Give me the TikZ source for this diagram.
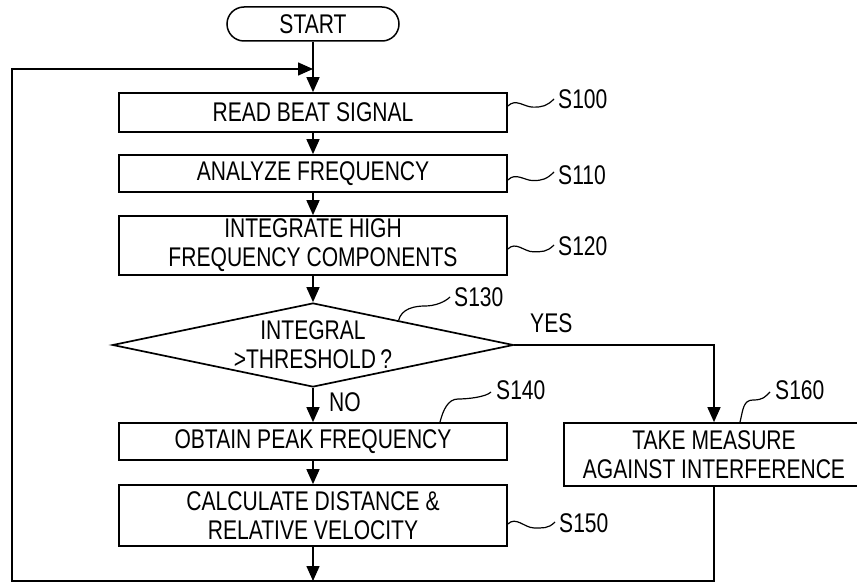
\documentclass[tikz,border=0pt]{standalone}
\usepackage{fontspec}
\setmainfont[FakeStretch=0.78]{Liberation Sans}
\usetikzlibrary{shapes.geometric,arrows.meta,calc}
\newcommand\leadh[2]{\draw[lead] (#1) .. controls +(8,-8) and +(-9,0) .. ($(#1)!0.55!(#2)+(0,5)$) .. controls +(9,0) and +(-7,7) .. (#2);}
\newcommand\leadv[3]{\draw[lead] (#1) .. controls +(3,-12) and +(-10,0) .. (#2) .. controls +(10,0) and +(-5,5) .. (#3);}
\begin{document}
\begin{tikzpicture}[x=1pt,y=-1pt,
  every node/.style={font=\fontsize{27}{29}\selectfont, text=black},
  proc/.style={draw, line width=1.7pt, rectangle, align=center, inner sep=0pt},
  term/.style={draw, line width=1.5pt, rectangle, rounded corners=17pt, inner sep=0pt},
  flow/.style={line width=1.5pt},
  arr/.style={flow, -{Triangle[length=15pt,width=13pt]}},
  lead/.style={line width=1.2pt},
  lbl/.style={anchor=west, inner sep=0pt}]
\useasboundingbox (0,0) rectangle (857,583);
\fill[white] (0,0) rectangle (857,583);
\clip (0,0) rectangle (857,583);

% nodes
\node[term, minimum width=172pt, minimum height=34pt] (st) at (313,24) {START};
\node[proc, minimum width=388pt, minimum height=39pt] (b1) at (313,112.5) {READ BEAT SIGNAL};
\node[proc, minimum width=388pt, minimum height=37pt] (b2) at (313,173.5) {ANALYZE FREQUENCY};
\node[proc, minimum width=388pt, minimum height=59pt] (b3) at (313,245.5) {INTEGRATE HIGH\\FREQUENCY COMPONENTS};
\node[diamond, draw, line width=1.7pt, inner sep=0pt, aspect=4.77, minimum width=401pt, minimum height=84pt, align=center] (d) at (313,345) {INTEGRAL\\>THRESHOLD\,?};
\node[proc, minimum width=388pt, minimum height=37pt] (b4) at (313,441.5) {OBTAIN PEAK FREQUENCY};
\node[proc, minimum width=388pt, minimum height=61pt] (b5) at (313,515.5) {CALCULATE DISTANCE \&\\RELATIVE VELOCITY};
\node[proc, minimum width=300pt, minimum height=63pt] (b6) at (714,454.5) {TAKE MEASURE\\AGAINST INTERFERENCE};

% labels
\node[lbl] (l100) at (558,99) {S100};
\node[lbl] (l110) at (558,175) {S110};
\node[lbl] (l120) at (558,246) {S120};
\node[lbl] (l130) at (454,297) {S130};
\node[lbl] (l140) at (496,390) {S140};
\node[lbl] (l150) at (559,523) {S150};
\node[lbl] (l160) at (775,390) {S160};
\node[lbl] (yes) at (530,323.5) {YES};
\node[lbl] (no) at (329,402) {NO};

% coordinates for loop
\coordinate (bot) at (313,581);
\coordinate (lb) at (12,581);
\coordinate (lt) at (12,69);
\coordinate (jn) at (313,69);

% connectors
\draw[arr] (st.south) -- (b1.north);
\draw[arr] (b1.south) -- (b2.north);
\draw[arr] (b2.south) -- (b3.north);
\draw[arr] (b3.south) -- (d.north);
\draw[arr] (d.south) -- (b4.north);
\draw[arr] (b4.south) -- (b5.north);
\draw[arr] (b5.south) -- (bot);
\draw[arr] (d.east) -| (b6.north);
\draw[arr] (b6.south) |- (lb) -- (lt) -- (jn);

% leader lines
\coordinate (a100) at (b1.east |- 0,106);
\coordinate (e100) at ([xshift=-4pt]l100.west);
\leadh{a100}{e100}
\coordinate (a110) at (b2.east |- 0,180);
\coordinate (e110) at ([xshift=-4pt,yshift=3pt]l110.west);
\leadh{a110}{e110}
\coordinate (a120) at (b3.east |- 0,249);
\coordinate (e120) at ([xshift=-4pt,yshift=1pt]l120.west);
\leadh{a120}{e120}
\coordinate (a150) at (b5.east |- 0,524);
\coordinate (e150) at ([xshift=-4pt,yshift=1pt]l150.west);
\leadh{a150}{e150}
\coordinate (a130) at ($(d.north)!0.425!(d.east)$);
\coordinate (m130) at (425,306);
\coordinate (e130) at ([xshift=-4pt]l130.west);
\leadv{a130}{m130}{e130}
\coordinate (a140) at (440,0 |- b4.north);
\coordinate (m140) at (458,399);
\coordinate (e140) at ([xshift=-5pt,yshift=-2pt]l140.west);
\leadv{a140}{m140}{e140}
\coordinate (a160) at (740,0 |- b6.north);
\coordinate (m160) at (753,400);
\coordinate (e160) at ([xshift=-5pt,yshift=-2pt]l160.west);
\leadv{a160}{m160}{e160}
\end{tikzpicture}
\end{document}
